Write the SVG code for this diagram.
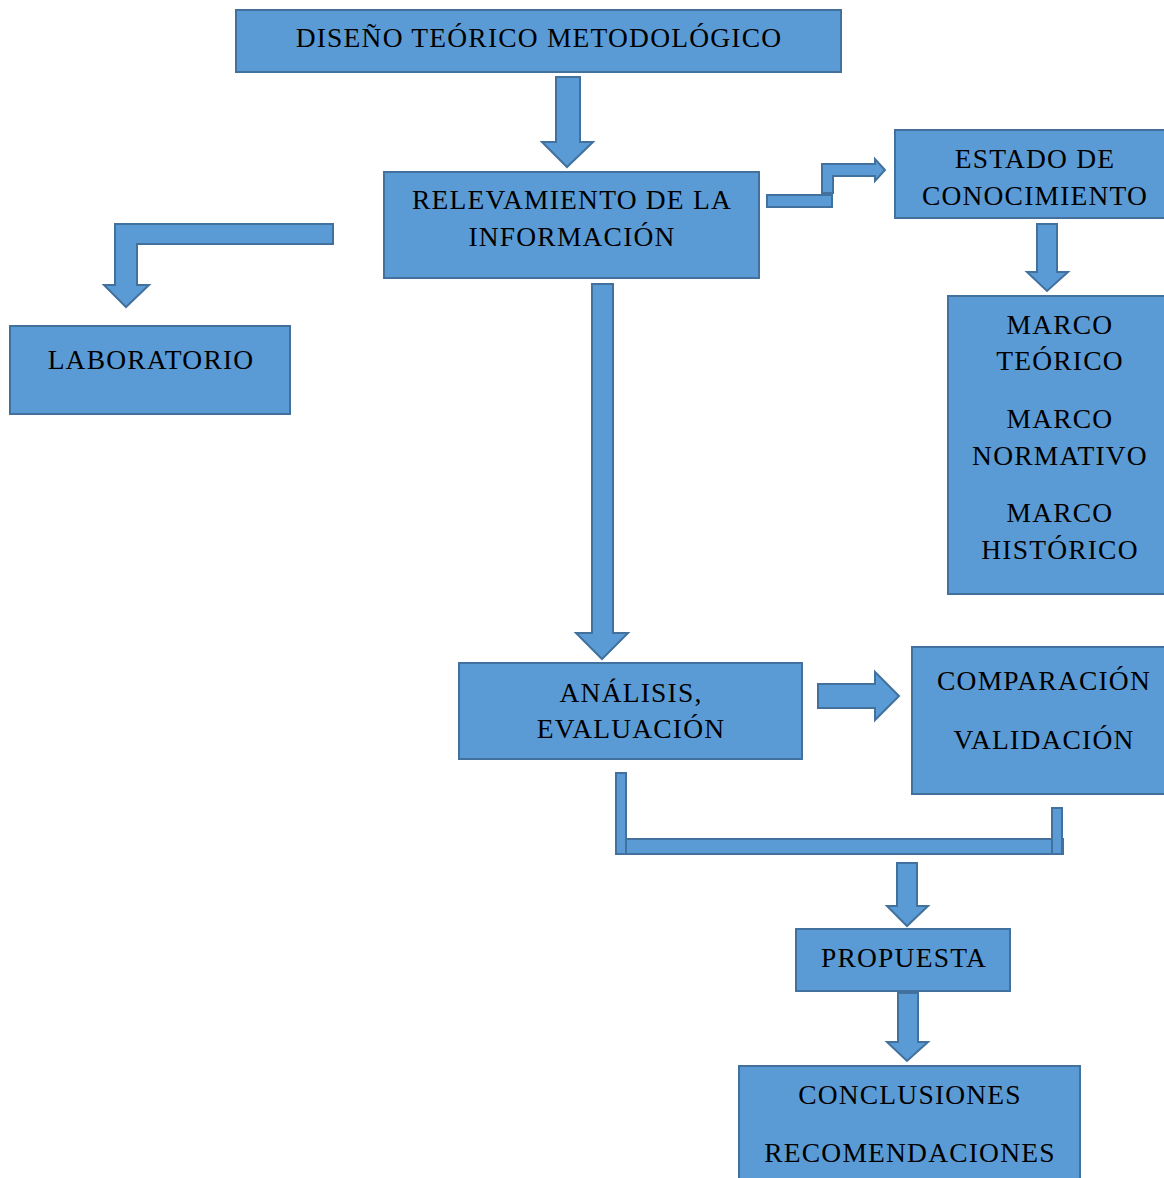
<svg xmlns="http://www.w3.org/2000/svg" width="1164" height="1178" viewBox="0 0 1164 1178">
<style>
.b{fill:#5B9BD5;stroke:#41719C;stroke-width:2}
.a{fill:#5B9BD5;stroke:#41719C;stroke-width:2;stroke-linejoin:miter}
text{font-family:"Liberation Serif","Times New Roman",serif;font-size:27.5px;letter-spacing:1.2px;fill:#000;text-anchor:middle}
</style>
<rect width="1164" height="1178" fill="#fff"/>
<g id="connectors">
<path class="a" d="M556,77 H580 V142 H593 L567,167 L542,142 H556 Z"/>
<path class="a" d="M592,284 H613 V633 H628 L602,659 L576,633 H592 Z"/>
<path class="a" d="M333,224 V244 H137 V285 H149 L126,307 L104,285 H115 V224 Z"/>
<rect class="a" x="767" y="195" width="65" height="12"/>
<path class="a" d="M822,193 V164 H875 V159 L885,170 L875,181 V176 H833 V193 Z"/>
<path class="a" d="M1037,224 H1057 V272 H1068 L1047,291 L1027,272 H1037 Z"/>
<path class="a" d="M818,684 H875 V672 L899,696 L875,720 V708 H818 Z"/>
<rect class="a" x="616" y="839" width="447" height="15"/>
<rect class="a" x="616" y="773" width="10" height="81"/>
<rect class="a" x="1052" y="808" width="10" height="46"/>
<path class="a" d="M897,863 H917 V906 H928 L907,926 L887,906 H897 Z"/>
<path class="a" d="M898,993 H918 V1042 H928 L907,1061 L887,1042 H898 Z"/>
</g>
<g id="n1"><rect class="b" x="236" y="10" width="605" height="62"/><text x="539" y="47">DISEÑO TEÓRICO METODOLÓGICO</text></g>
<g id="n2"><rect class="b" x="384" y="172" width="375" height="106"/><text x="572" y="209">RELEVAMIENTO DE LA</text><text x="572" y="246">INFORMACIÓN</text></g>
<g id="n3"><rect class="b" x="895" y="130" width="275" height="88"/><text x="1035" y="168">ESTADO DE</text><text x="1035" y="205">CONOCIMIENTO</text></g>
<g id="n4"><rect class="b" x="948" y="296" width="222" height="298"/><text x="1060" y="334">MARCO</text><text x="1060" y="370">TEÓRICO</text><text x="1060" y="428">MARCO</text><text x="1060" y="465">NORMATIVO</text><text x="1060" y="522">MARCO</text><text x="1060" y="559">HISTÓRICO</text></g>
<g id="n5"><rect class="b" x="10" y="326" width="280" height="88"/><text x="151" y="369">LABORATORIO</text></g>
<g id="n6"><rect class="b" x="459" y="663" width="343" height="96"/><text x="631" y="702">ANÁLISIS,</text><text x="631" y="738">EVALUACIÓN</text></g>
<g id="n7"><rect class="b" x="912" y="647" width="258" height="147"/><text x="1044" y="690">COMPARACIÓN</text><text x="1044" y="749">VALIDACIÓN</text></g>
<g id="n8"><rect class="b" x="796" y="929" width="214" height="62"/><text x="904" y="967">PROPUESTA</text></g>
<g id="n9"><rect class="b" x="739" y="1066" width="341" height="120"/><text x="910" y="1104">CONCLUSIONES</text><text x="910" y="1162">RECOMENDACIONES</text></g>
</svg>
